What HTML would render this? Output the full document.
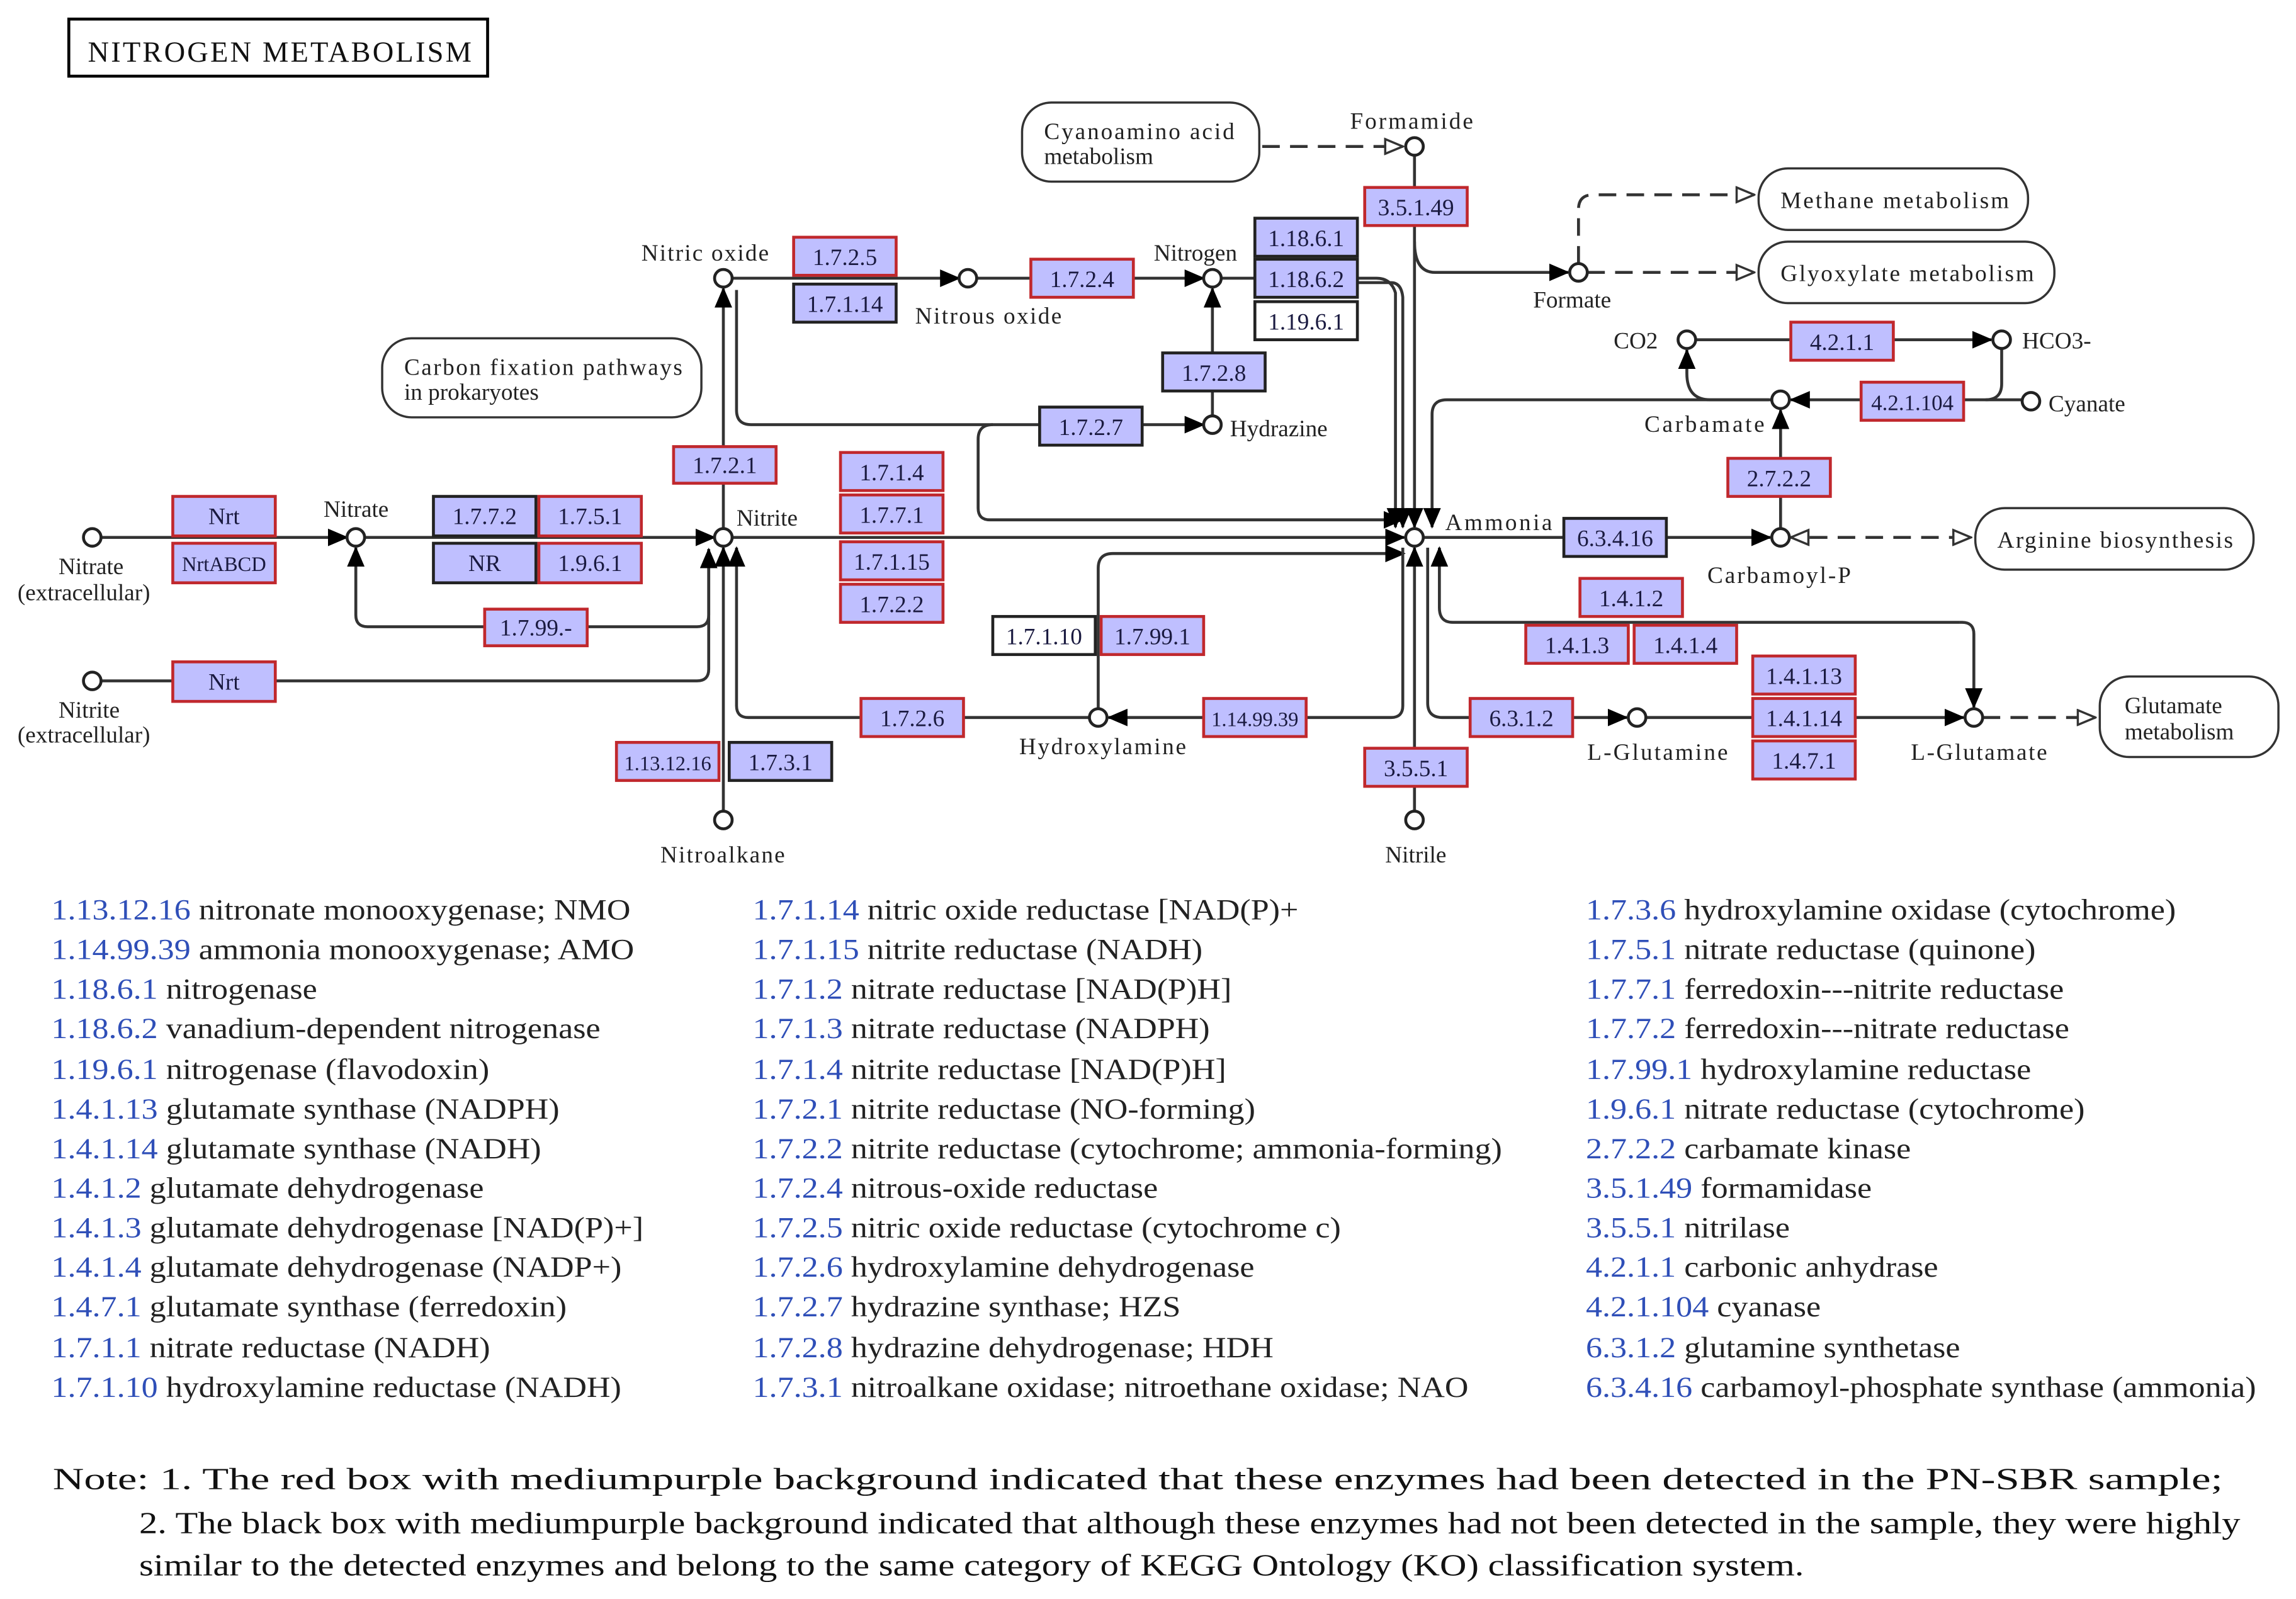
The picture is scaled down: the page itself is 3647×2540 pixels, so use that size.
<!DOCTYPE html>
<html><head><meta charset="utf-8"><style>
html,body{margin:0;padding:0;background:#fff;}
svg{display:block;}
text{font-family:"Liberation Serif",serif;}
.n{font-size:16px;fill:#222;}
.e{font-size:16px;fill:#1a1a40;text-anchor:middle;}
.l{font-size:20px;fill:#222;}
.c{fill:#2f4fb8;}
.ln{stroke:#333;stroke-width:2;fill:none;}
.d{stroke:#333;stroke-width:2;fill:none;stroke-dasharray:12,7;}
</style></head><body>
<svg width="3647" height="2540" viewBox="0 0 1568 1092" xmlns="http://www.w3.org/2000/svg">
<defs>
<marker id="a" markerWidth="14" markerHeight="12" refX="13" refY="6" orient="auto" markerUnits="userSpaceOnUse"><path d="M0,0 L14,6 L0,12 z" fill="#000"/></marker>
<marker id="h" markerWidth="14" markerHeight="12" refX="13" refY="6" orient="auto" markerUnits="userSpaceOnUse"><path d="M1,1 L13,6 L1,11 z" fill="#fff" stroke="#333" stroke-width="1.5"/></marker>
</defs>
<rect x="47" y="13" width="286" height="39" fill="#fff" stroke="#000" stroke-width="2"/>
<text x="60" y="42" style="font-size:20px" fill="#111" textLength="262">NITROGEN METABOLISM</text>

<g class="ln">
<path d="M69,367 H237" marker-end="url(#a)"/>
<path d="M249,367 H488" marker-end="url(#a)"/>
<path d="M484,375 V420 Q484,428 476,428 H251 Q243,428 243,420 V374" marker-end="url(#a)"/>
<path d="M69,465 H476 Q484,465 484,457 V375" marker-end="url(#a)"/>
<path d="M494,361 V197" marker-end="url(#a)"/>
<path d="M500,190 H655" marker-end="url(#a)"/>
<path d="M667,190 H822" marker-end="url(#a)"/>
<path d="M503,198 V280 Q503,290 513,290 H822" marker-end="url(#a)"/>
<path d="M828,284 V197" marker-end="url(#a)"/>
<path d="M678,290 Q668,290 668,300 V347 Q668,355 676,355 H958" marker-end="url(#a)"/>
<path d="M500,367 H959" marker-end="url(#a)"/>
<path d="M834,190 H940 Q950,190 953,200 V360" marker-end="url(#a)"/>
<path d="M927,193 H950 Q957,193 958,203 V360" marker-end="url(#a)"/>
<path d="M966,106 V360" marker-end="url(#a)"/>
<path d="M966,165 Q966,186 980,186 H1071" marker-end="url(#a)"/>
<path d="M1158,232 H1360" marker-end="url(#a)"/>
<path d="M1381,273 H1223" marker-end="url(#a)"/>
<path d="M1367,238 V262 Q1367,273 1356,273"/>
<path d="M1208,273 H1168 Q1152,273 1152,255 V239" marker-end="url(#a)"/>
<path d="M1210,273 H988 Q978,273 978,283 V360" marker-end="url(#a)"/>
<path d="M1216,361 V280" marker-end="url(#a)"/>
<path d="M972,367 H1209" marker-end="url(#a)"/>
<path d="M1338,425 H1340 Q1348,425 1348,433 V483" marker-end="url(#a)"/>
<path d="M1338,425 H992 Q983,425 983,415 V374" marker-end="url(#a)"/>
<path d="M975,374 V480 Q975,490 985,490 H1111" marker-end="url(#a)"/>
<path d="M1124,490 H1341" marker-end="url(#a)"/>
<path d="M750,484 V388 Q750,378 760,378 H959" marker-end="url(#a)"/>
<path d="M958,374 V482 Q958,490 950,490 H757" marker-end="url(#a)"/>
<path d="M744,490 H511 Q503,490 503,482 V374" marker-end="url(#a)"/>
<path d="M494,554 V374" marker-end="url(#a)"/>
<path d="M966,554 V374" marker-end="url(#a)"/>
</g>
<g class="d">
<path d="M862,100 H958" marker-end="url(#h)"/>
<path d="M1078,180 V143 Q1078,133 1088,133 H1198" marker-end="url(#h)"/>
<path d="M1084,186 H1198" marker-end="url(#h)"/>
<path d="M1236,367 H1346" marker-end="url(#h)"/>
<path d="M1236,367 H1223" marker-end="url(#h)" stroke-dasharray="none"/>
<path d="M1354,490 H1431" marker-end="url(#h)"/>
</g>

<g fill="#fff" stroke="#222" stroke-width="2">
<circle cx="63" cy="367" r="6"/><circle cx="243" cy="367" r="6"/><circle cx="494" cy="367" r="6"/>
<circle cx="494" cy="190" r="6"/><circle cx="661" cy="190" r="6"/><circle cx="828" cy="190" r="6"/>
<circle cx="828" cy="290" r="6"/><circle cx="966" cy="100" r="6"/><circle cx="1078" cy="186" r="6"/>
<circle cx="1152" cy="232" r="6"/><circle cx="1367" cy="232" r="6"/><circle cx="1387" cy="274" r="6"/>
<circle cx="1216" cy="273" r="6"/><circle cx="1216" cy="367" r="6"/><circle cx="966" cy="367" r="6"/>
<circle cx="63" cy="465" r="6"/><circle cx="750" cy="490" r="6"/><circle cx="1118" cy="490" r="6"/>
<circle cx="1348" cy="490" r="6"/><circle cx="494" cy="560" r="6"/><circle cx="966" cy="560" r="6"/>
</g>

<g fill="#fff" stroke="#333" stroke-width="1.5">
<rect x="698" y="70" width="162" height="54" rx="20"/>
<rect x="1201" y="115" width="184" height="42" rx="20"/>
<rect x="1201" y="165" width="202" height="42" rx="20"/>
<rect x="261" y="231" width="218" height="54" rx="20"/>
<rect x="1349" y="347" width="190" height="42" rx="20"/>
<rect x="1434" y="462" width="122" height="55" rx="20"/>
</g>
<g class="n">
<text x="713" y="95" textLength="130">Cyanoamino acid</text><text x="713" y="112">metabolism</text>
<text x="1216" y="142" textLength="156">Methane metabolism</text>
<text x="1216" y="192" textLength="173">Glyoxylate metabolism</text>
<text x="276" y="256" textLength="190">Carbon fixation pathways</text><text x="276" y="273">in prokaryotes</text>
<text x="1364" y="374" textLength="161">Arginine biosynthesis</text>
<text x="1451" y="487">Glutamate</text><text x="1451" y="505">metabolism</text>
</g>

<g class="n">
<text x="40" y="392">Nitrate</text><text x="12" y="410">(extracellular)</text>
<text x="40" y="490">Nitrite</text><text x="12" y="507">(extracellular)</text>
<text x="221" y="353">Nitrate</text>
<text x="503" y="359">Nitrite</text>
<text x="438" y="178" textLength="87">Nitric oxide</text>
<text x="625" y="221" textLength="100">Nitrous oxide</text>
<text x="788" y="178">Nitrogen</text>
<text x="840" y="298">Hydrazine</text>
<text x="922" y="88" textLength="84">Formamide</text>
<text x="1047" y="210">Formate</text>
<text x="1102" y="238">CO2</text>
<text x="1381" y="238">HCO3-</text>
<text x="1399" y="281">Cyanate</text>
<text x="1123" y="295" textLength="82">Carbamate</text>
<text x="1166" y="398" textLength="98">Carbamoyl-P</text>
<text x="987" y="362" textLength="73">Ammonia</text>
<text x="696" y="515" textLength="114">Hydroxylamine</text>
<text x="1084" y="519" textLength="96">L-Glutamine</text>
<text x="1305" y="519" textLength="93">L-Glutamate</text>
<text x="451" y="589" textLength="85">Nitroalkane</text>
<text x="946" y="589">Nitrile</text>
</g>

<g stroke-width="2" fill="#bfbfff">
<rect x="118" y="339" width="70" height="27" stroke="#c0282d"/>
<rect x="118" y="371" width="70" height="27" stroke="#c0282d"/>
<rect x="118" y="452" width="70" height="27" stroke="#c0282d"/>
<rect x="296" y="339" width="70" height="27" stroke="#222"/>
<rect x="368" y="339" width="70" height="27" stroke="#c0282d"/>
<rect x="296" y="371" width="70" height="27" stroke="#222"/>
<rect x="368" y="371" width="70" height="27" stroke="#c0282d"/>
<rect x="331" y="416" width="70" height="25" stroke="#c0282d"/>
<rect x="460" y="305" width="70" height="25" stroke="#c0282d"/>
<rect x="542" y="162" width="70" height="26" stroke="#c0282d"/>
<rect x="542" y="194" width="70" height="26" stroke="#222"/>
<rect x="704" y="177" width="70" height="26" stroke="#c0282d"/>
<rect x="857" y="149" width="70" height="26" stroke="#222"/>
<rect x="857" y="177" width="70" height="26" stroke="#222"/>
<rect x="857" y="206" width="70" height="26" stroke="#222" fill="#fff"/>
<rect x="794" y="241" width="70" height="26" stroke="#222"/>
<rect x="710" y="278" width="70" height="26" stroke="#222"/>
<rect x="932" y="128" width="70" height="26" stroke="#c0282d"/>
<rect x="574" y="309" width="70" height="26" stroke="#c0282d"/>
<rect x="574" y="338" width="70" height="26" stroke="#c0282d"/>
<rect x="574" y="370" width="70" height="26" stroke="#c0282d"/>
<rect x="574" y="399" width="70" height="26" stroke="#c0282d"/>
<rect x="678" y="421" width="70" height="26" stroke="#222" fill="#fff"/>
<rect x="752" y="421" width="70" height="26" stroke="#c0282d"/>
<rect x="588" y="477" width="70" height="26" stroke="#c0282d"/>
<rect x="822" y="477" width="70" height="26" stroke="#c0282d"/>
<rect x="421" y="507" width="70" height="26" stroke="#c0282d"/>
<rect x="498" y="507" width="70" height="26" stroke="#222"/>
<rect x="1068" y="354" width="70" height="26" stroke="#222"/>
<rect x="1223" y="220" width="70" height="26" stroke="#c0282d"/>
<rect x="1271" y="261" width="70" height="26" stroke="#c0282d"/>
<rect x="1180" y="313" width="70" height="26" stroke="#c0282d"/>
<rect x="1079" y="395" width="70" height="26" stroke="#c0282d"/>
<rect x="1042" y="427" width="70" height="26" stroke="#c0282d"/>
<rect x="1116" y="427" width="70" height="26" stroke="#c0282d"/>
<rect x="1004" y="477" width="70" height="26" stroke="#c0282d"/>
<rect x="1197" y="448" width="70" height="26" stroke="#c0282d"/>
<rect x="1197" y="477" width="70" height="26" stroke="#c0282d"/>
<rect x="1197" y="506" width="70" height="26" stroke="#c0282d"/>
<rect x="932" y="511" width="70" height="26" stroke="#c0282d"/>
</g>
<g class="e">
<text x="153" y="358">Nrt</text><text x="153" y="390" style="font-size:14px">NrtABCD</text><text x="153" y="471">Nrt</text>
<text x="331" y="358">1.7.7.2</text><text x="403" y="358">1.7.5.1</text>
<text x="331" y="390">NR</text><text x="403" y="390">1.9.6.1</text>
<text x="366" y="434">1.7.99.-</text><text x="495" y="323">1.7.2.1</text>
<text x="577" y="181">1.7.2.5</text><text x="577" y="213">1.7.1.14</text>
<text x="739" y="196">1.7.2.4</text>
<text x="892" y="168">1.18.6.1</text><text x="892" y="196">1.18.6.2</text><text x="892" y="225">1.19.6.1</text>
<text x="829" y="260">1.7.2.8</text><text x="745" y="297">1.7.2.7</text>
<text x="967" y="147">3.5.1.49</text>
<text x="609" y="328">1.7.1.4</text><text x="609" y="357">1.7.7.1</text><text x="609" y="389">1.7.1.15</text><text x="609" y="418">1.7.2.2</text>
<text x="713" y="440">1.7.1.10</text><text x="787" y="440">1.7.99.1</text>
<text x="623" y="496">1.7.2.6</text><text x="857" y="496" style="font-size:14px">1.14.99.39</text>
<text x="456" y="526" style="font-size:14px">1.13.12.16</text><text x="533" y="526">1.7.3.1</text>
<text x="1103" y="373">6.3.4.16</text>
<text x="1258" y="239">4.2.1.1</text><text x="1306" y="280" style="font-size:15px">4.2.1.104</text>
<text x="1215" y="332">2.7.2.2</text>
<text x="1114" y="414">1.4.1.2</text><text x="1077" y="446">1.4.1.3</text><text x="1151" y="446">1.4.1.4</text>
<text x="1039" y="496">6.3.1.2</text>
<text x="1232" y="467">1.4.1.13</text><text x="1232" y="496">1.4.1.14</text><text x="1232" y="525">1.4.7.1</text>
<text x="967" y="530">3.5.5.1</text>
</g>

<g class="l" transform="translate(35,0) scale(1.12,1)">
<text x="0" y="628"><tspan class="c">1.13.12.16</tspan> nitronate monooxygenase; NMO</text>
<text x="0" y="655"><tspan class="c">1.14.99.39</tspan> ammonia monooxygenase; AMO</text>
<text x="0" y="682"><tspan class="c">1.18.6.1</tspan> nitrogenase</text>
<text x="0" y="709"><tspan class="c">1.18.6.2</tspan> vanadium-dependent nitrogenase</text>
<text x="0" y="737"><tspan class="c">1.19.6.1</tspan> nitrogenase (flavodoxin)</text>
<text x="0" y="764"><tspan class="c">1.4.1.13</tspan> glutamate synthase (NADPH)</text>
<text x="0" y="791"><tspan class="c">1.4.1.14</tspan> glutamate synthase (NADH)</text>
<text x="0" y="818"><tspan class="c">1.4.1.2</tspan> glutamate dehydrogenase</text>
<text x="0" y="845"><tspan class="c">1.4.1.3</tspan> glutamate dehydrogenase [NAD(P)+]</text>
<text x="0" y="872"><tspan class="c">1.4.1.4</tspan> glutamate dehydrogenase (NADP+)</text>
<text x="0" y="899"><tspan class="c">1.4.7.1</tspan> glutamate synthase (ferredoxin)</text>
<text x="0" y="927"><tspan class="c">1.7.1.1</tspan> nitrate reductase (NADH)</text>
<text x="0" y="954"><tspan class="c">1.7.1.10</tspan> hydroxylamine reductase (NADH)</text>
</g>
<g class="l" transform="translate(514,0) scale(1.12,1)">
<text x="0" y="628"><tspan class="c">1.7.1.14</tspan> nitric oxide reductase [NAD(P)+</text>
<text x="0" y="655"><tspan class="c">1.7.1.15</tspan> nitrite reductase (NADH)</text>
<text x="0" y="682"><tspan class="c">1.7.1.2</tspan> nitrate reductase [NAD(P)H]</text>
<text x="0" y="709"><tspan class="c">1.7.1.3</tspan> nitrate reductase (NADPH)</text>
<text x="0" y="737"><tspan class="c">1.7.1.4</tspan> nitrite reductase [NAD(P)H]</text>
<text x="0" y="764"><tspan class="c">1.7.2.1</tspan> nitrite reductase (NO-forming)</text>
<text x="0" y="791"><tspan class="c">1.7.2.2</tspan> nitrite reductase (cytochrome; ammonia-forming)</text>
<text x="0" y="818"><tspan class="c">1.7.2.4</tspan> nitrous-oxide reductase</text>
<text x="0" y="845"><tspan class="c">1.7.2.5</tspan> nitric oxide reductase (cytochrome c)</text>
<text x="0" y="872"><tspan class="c">1.7.2.6</tspan> hydroxylamine dehydrogenase</text>
<text x="0" y="899"><tspan class="c">1.7.2.7</tspan> hydrazine synthase; HZS</text>
<text x="0" y="927"><tspan class="c">1.7.2.8</tspan> hydrazine dehydrogenase; HDH</text>
<text x="0" y="954"><tspan class="c">1.7.3.1</tspan> nitroalkane oxidase; nitroethane oxidase; NAO</text>
</g>
<g class="l" transform="translate(1083,0) scale(1.12,1)">
<text x="0" y="628"><tspan class="c">1.7.3.6</tspan> hydroxylamine oxidase (cytochrome)</text>
<text x="0" y="655"><tspan class="c">1.7.5.1</tspan> nitrate reductase (quinone)</text>
<text x="0" y="682"><tspan class="c">1.7.7.1</tspan> ferredoxin---nitrite reductase</text>
<text x="0" y="709"><tspan class="c">1.7.7.2</tspan> ferredoxin---nitrate reductase</text>
<text x="0" y="737"><tspan class="c">1.7.99.1</tspan> hydroxylamine reductase</text>
<text x="0" y="764"><tspan class="c">1.9.6.1</tspan> nitrate reductase (cytochrome)</text>
<text x="0" y="791"><tspan class="c">2.7.2.2</tspan> carbamate kinase</text>
<text x="0" y="818"><tspan class="c">3.5.1.49</tspan> formamidase</text>
<text x="0" y="845"><tspan class="c">3.5.5.1</tspan> nitrilase</text>
<text x="0" y="872"><tspan class="c">4.2.1.1</tspan> carbonic anhydrase</text>
<text x="0" y="899"><tspan class="c">4.2.1.104</tspan> cyanase</text>
<text x="0" y="927"><tspan class="c">6.3.1.2</tspan> glutamine synthetase</text>
<text x="0" y="954"><tspan class="c">6.3.4.16</tspan> carbamoyl-phosphate synthase (ammonia)</text>
</g>
<g style="font-size:21px" fill="#111">
<text x="36" y="1017" textLength="1482" lengthAdjust="spacingAndGlyphs">Note: 1. The red box with mediumpurple background indicated that these enzymes had been detected in the PN-SBR sample;</text>
<text x="95" y="1047" textLength="1435" lengthAdjust="spacingAndGlyphs">2. The black box with mediumpurple background indicated that although these enzymes had not been detected in the sample, they were highly</text>
<text x="95" y="1076" textLength="1137" lengthAdjust="spacingAndGlyphs">similar to the detected  enzymes and belong to the same category of KEGG Ontology (KO) classification system.</text>
</g>
</svg>
</body></html>
